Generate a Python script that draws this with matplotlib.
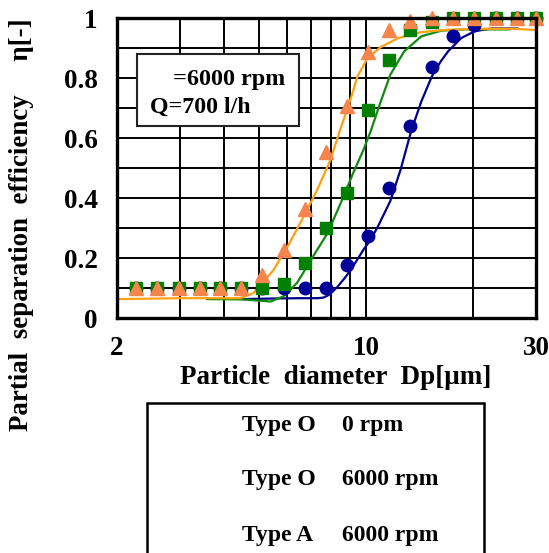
import matplotlib
matplotlib.use('Agg')
import matplotlib.pyplot as plt
from matplotlib.patches import Rectangle

plt.rcParams['font.family'] = ['Liberation Serif', 'DejaVu Serif']
plt.rcParams['font.weight'] = 'bold'

# measured particle diameters [um]
dp = [2.26, 2.59, 2.98, 3.41, 3.90, 4.47, 5.12, 5.87, 6.73, 7.70,
      8.82, 10.1, 11.6, 13.3, 15.3, 17.5, 20.1, 23.2, 26.5, 30.0]

# measured efficiencies
eta_o_0 = [0.10, 0.10, 0.10, 0.10, 0.10, 0.10, 0.10, 0.10, 0.10, 0.10,
           0.176, 0.272, 0.432, 0.639, 0.837, 0.941, 0.978, 1.0, 1.0, 1.0]
eta_o_6000 = [0.10, 0.10, 0.10, 0.10, 0.10, 0.10, 0.10, 0.115, 0.183, 0.299,
              0.417, 0.694, 0.861, 0.959, 0.987, 1.0, 1.0, 1.0, 1.0, 1.0]
eta_a_6000 = [0.10, 0.10, 0.10, 0.10, 0.10, 0.10, 0.144, 0.228, 0.363, 0.552,
              0.708, 0.887, 0.961, 0.991, 1.0, 1.0, 1.0, 1.0, 1.0, 1.0]

# fitted curves
fit_o_0_x = [4.53, 5.5, 6.5, 7.3, 7.6, 7.9, 8.3, 8.7, 9.07, 9.84, 10.3, 10.8,
             11.7, 12.5, 13.4, 14.3, 15.3, 16.2, 17.0, 18.5, 20.2, 22.5, 26.6]
fit_o_0_y = [0.063, 0.065, 0.066, 0.066, 0.068, 0.078, 0.103, 0.132, 0.161,
             0.228, 0.261, 0.305, 0.39, 0.494, 0.625, 0.722, 0.805, 0.855,
             0.889, 0.933, 0.956, 0.965, 0.965]
fit_o_6000_x = [3.58, 4.5, 5.0, 5.4, 5.86, 6.0, 6.4, 6.54, 7.1, 7.8, 8.49, 9.2,
                9.84, 10.3, 11.0, 11.7, 12.8, 14.3, 16.3, 19.0, 25.2]
fit_o_6000_y = [0.063, 0.062, 0.058, 0.055, 0.072, 0.083, 0.117, 0.135, 0.205,
                0.283, 0.383, 0.483, 0.561, 0.622, 0.722, 0.811, 0.889, 0.939,
                0.958, 0.962, 0.962]
fit_a_6000_x = [2.0, 3.0, 4.0, 4.43, 4.83, 5.15, 5.5, 6.1, 6.69, 7.3, 7.93,
                8.49, 9.07, 9.46, 10.1, 11.0, 12.3, 14.3, 17.0, 21.0, 26.1, 30.0]
fit_a_6000_y = [0.063, 0.066, 0.066, 0.066, 0.083, 0.120, 0.160, 0.25, 0.339,
                0.428, 0.525, 0.633, 0.733, 0.805, 0.867, 0.903, 0.933, 0.953,
                0.961, 0.964, 0.964, 0.960]

legend_rows = [('Type O', '0 rpm'), ('Type O', '6000 rpm'), ('Type A', '6000 rpm')]

fig = plt.figure(figsize=(5.49, 5.53), dpi=100)
ax = fig.add_axes([117 / 549, 1 - 318 / 553, 419 / 549, 300 / 553])

ax.plot(fit_o_0_x, fit_o_0_y, color='#000088', lw=1.6, zorder=3)
ax.plot(fit_o_6000_x, fit_o_6000_y, color='#128a12', lw=1.6, zorder=3)
ax.plot(fit_a_6000_x, fit_a_6000_y, color='#FFA010', lw=1.6, zorder=3)

ax.plot(dp, eta_o_0, 'o', color='#000099', ms=9, zorder=4, clip_on=False)
ax.plot(dp, eta_o_6000, 's', color='#008000', ms=8.5, zorder=5, clip_on=False)
ax.plot(dp, eta_a_6000, '^', color='#F5854C', ms=10, zorder=6, clip_on=False)

ax.set_xscale('log')
ax.set_xlim(2, 30)
ax.set_ylim(0, 1)
ax.set_xticks([2, 10, 30])
ax.set_xticklabels(['2', '10', '30'])
ax.set_xticks([3, 4, 5, 6, 7, 8, 9, 20], minor=True)
ax.set_xticklabels([], minor=True)
ax.set_yticks([0, 0.2, 0.4, 0.6, 0.8, 1.0])
ax.set_yticklabels(['0', '0.2', '0.4', '0.6', '0.8', '1'])
ax.set_yticks([0.1, 0.3, 0.5, 0.7, 0.9], minor=True)
ax.tick_params(which='both', length=0, labelsize=19.5)
ax.tick_params(axis='y', pad=14)
ax.tick_params(axis='x', pad=13)
ax.grid(which='both', color='black', lw=1.4, zorder=1)
ax.set_axisbelow(True)
for s in ax.spines.values():
    s.set_linewidth(2.4)
    s.set_zorder(7)

# condition box
ax.add_patch(Rectangle((0.047, 0.641), 0.387, 0.238, transform=ax.transAxes,
                       facecolor='white', edgecolor='#222222', lw=1.5, zorder=8))
ax.text(0.134, 0.777, '=6000 rpm', transform=ax.transAxes, fontsize=17.4,
        fontweight='bold', zorder=9)
ax.text(0.079, 0.684, 'Q=700 l/h', transform=ax.transAxes, fontsize=17.2,
        fontweight='bold', zorder=9)

fig.text(336 / 549, 1 - 377 / 553, 'Particle  diameter  Dp[μm]', ha='center',
         va='center', fontsize=19.5, fontweight='bold')
fig.text(22 / 549, 1 - 225 / 553, 'Partial  separation  efficiency     η[-]',
         ha='center', va='center', rotation=90, fontsize=19.4, fontweight='bold')

# legend box (text only)
fig.patches.append(Rectangle((147 / 549, -0.01), 337 / 549, 1 - 403 / 553 + 0.01,
                             transform=fig.transFigure, facecolor='white',
                             edgecolor='black', lw=1.8))
for i, (a, b) in enumerate(legend_rows):
    yy = 1 - (425 + 55 * i) / 553
    fig.text(242 / 549, yy, a, ha='left', va='center', fontsize=17, fontweight='bold')
    fig.text(342 / 549, yy, b, ha='left', va='center', fontsize=17, fontweight='bold')

fig.savefig('out.png', dpi=100)
